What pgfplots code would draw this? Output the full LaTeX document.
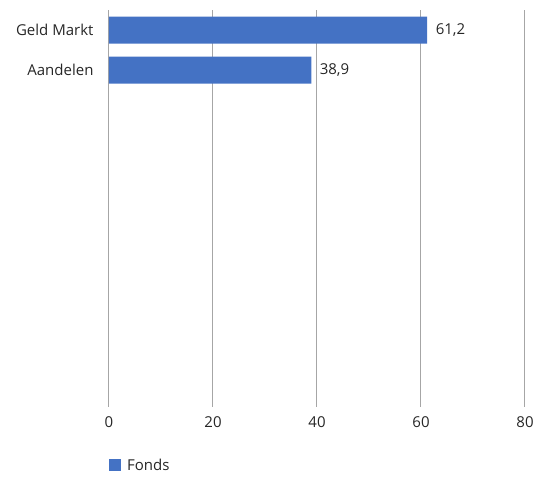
\documentclass[border=0pt]{standalone}
\usepackage{pgfplots}
\pgfplotsset{compat=1.18}
\usetikzlibrary{calc}
\usepackage{fontspec}
\setmainfont{Open Sans}
\definecolor{barblue}{HTML}{4472C4}
\definecolor{gridgray}{HTML}{A6A6A6}
\newcommand{\lblfont}{\fontsize{15}{18}\selectfont}
\begin{document}
\begin{tikzpicture}
\begin{axis}[
  scale only axis,
  width=416pt, height=397pt,
  xbar, bar width=27pt,
  xmin=0, xmax=80,
  ymin=-0.5, ymax=9.425,
  y dir=reverse,
  xtick={0,20,40,60,80},
  ytick={0,1},
  yticklabels={Geld Markt, Aandelen},
  xmajorgrids,
  grid style={gridgray, line width=1pt},
  axis line style={draw=none},
  major tick length=0pt,
  tick label style={font=\lblfont, text=black!85},
  xticklabel style={yshift=-6pt},
  yticklabel style={xshift=-12pt},
  /pgf/number format/assume math mode=true,
  nodes near coords={\pgfmathprintnumber[use comma,fixed,precision=1,fixed zerofill]{\pgfplotspointmeta}},
  nodes near coords style={font=\lblfont, text=black!85, xshift=5pt},
  legend style={at={(0,-0.147)}, anchor=west, draw=none, fill=none,
    font=\lblfont, text=black!85, inner sep=0pt,
    legend cell align=left},
  legend image code/.code={\fill[barblue] (0pt,-6pt) rectangle (12pt,6pt);},
]
\addplot[fill=barblue, draw=none] coordinates {(61.2,0) (38.9,1)};
\legend{\hspace{4pt}Fonds}
\end{axis}
\path ($(current axis.south west)+(-109pt,-70pt)$) rectangle ($(current axis.north east)+(25pt,10pt)$);
\end{tikzpicture}
\end{document}
